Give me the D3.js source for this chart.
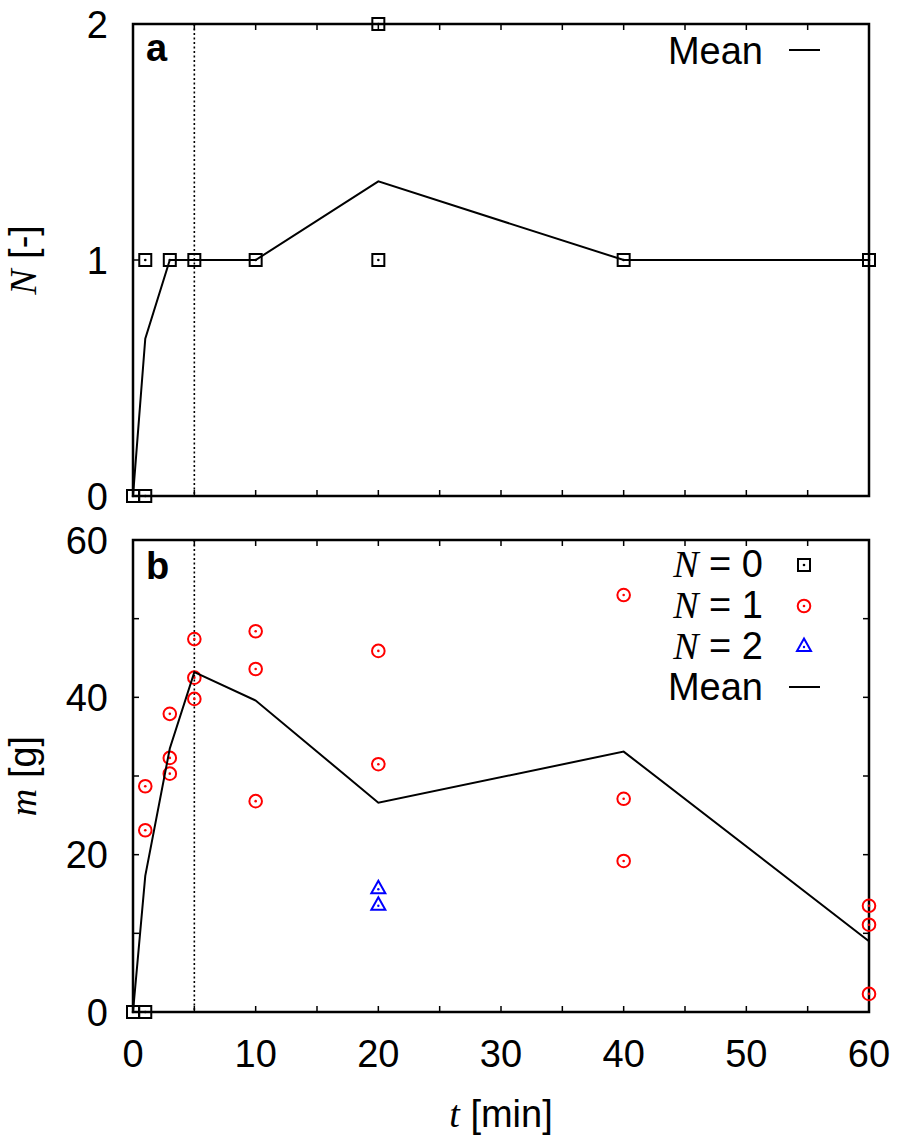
<!DOCTYPE html>
<html>
<head>
<meta charset="utf-8">
<script src="https://cdn.jsdelivr.net/npm/d3@7"></script>
<style>
  html, body { margin: 0; padding: 0; background: #fff; }
  svg { display: block; }
  text { font-family: "Liberation Sans", Arial, Helvetica, sans-serif; }
  .it { font-family: "Liberation Serif", "Times New Roman", serif; font-style: italic; }
</style>
</head>
<body>
<svg id="chart" width="898" height="1137"></svg>
<script>
// ---------- data ----------
const meanTimes = [0, 1, 3, 5, 10, 20, 40, 60];

// panel a: number N
const nTimes  = [0, 1, 1, 3, 5, 10, 20, 20, 40, 60];
const nValues = [0, 0, 1, 1, 1, 1, 2, 1, 1, 1];
const nMean   = [0, 0.667, 1, 1, 1, 1.333, 1, 1];

// panel b: mass m
const m0Times  = [0, 1];
const m0Values = [0, 0];
const m1Times  = [1, 1, 3, 3, 3, 5, 5, 5, 10, 10, 10, 20, 20, 40, 40, 40, 60, 60, 60];
const m1Values = [28.7, 23.1, 37.9, 32.3, 30.3, 47.4, 42.5, 39.8, 48.4, 43.6, 26.8, 45.9, 31.5, 53.0, 27.1, 19.2, 13.5, 11.1, 2.3];
const m2Times  = [20, 20];
const m2Values = [15.6, 13.5];
const mMean    = [0, 17.3, 33.5, 43.2, 39.6, 26.6, 33.1, 9.0];

const xTickLabels = [0, 10, 20, 30, 40, 50, 60];
const nTickLabels = [0, 1, 2];
const mTickLabels = [0, 20, 40, 60];
const markerTime = 5;

// ---------- layout ----------
const svg = d3.select("#chart");
const L = 133, R = 869;
const aTop = 24, aBot = 496, bTop = 540, bBot = 1012;
const FS = 38;

const x = d3.scaleLinear().domain([0, 60]).range([L, R]);
const yA = d3.scaleLinear().domain([0, 2]).range([aBot, aTop]);
const yB = d3.scaleLinear().domain([0, 60]).range([bBot, bTop]);

function drawFrame(y, top, bot, yMinor, yLabels, showXLabels) {
  const g = svg.append("g");
  const tl = 6;
  // x ticks every 5 on bottom and top
  d3.range(0, 61, 5).forEach(v => {
    const xx = x(v);
    g.append("line").attr("x1", xx).attr("x2", xx).attr("y1", bot).attr("y2", bot - tl)
      .attr("stroke", "#000").attr("stroke-width", 1.5);
    g.append("line").attr("x1", xx).attr("x2", xx).attr("y1", top).attr("y2", top + tl)
      .attr("stroke", "#000").attr("stroke-width", 1.5);
  });
  yMinor.forEach(v => {
    const yy = y(v);
    g.append("line").attr("x1", L).attr("x2", L + tl).attr("y1", yy).attr("y2", yy)
      .attr("stroke", "#000").attr("stroke-width", 1.5);
    g.append("line").attr("x1", R).attr("x2", R - tl).attr("y1", yy).attr("y2", yy)
      .attr("stroke", "#000").attr("stroke-width", 1.5);
  });
  yLabels.forEach(v => {
    g.append("text").attr("x", 108).attr("y", y(v)).attr("dy", "0.36em")
      .attr("text-anchor", "end").attr("font-size", FS).text(v);
  });
  if (showXLabels) {
    xTickLabels.forEach(v => {
      g.append("text").attr("x", x(v)).attr("y", 1067).attr("text-anchor", "middle")
        .attr("font-size", FS).text(v);
    });
  }
  // dotted vertical line
  g.append("line").attr("x1", x(markerTime)).attr("x2", x(markerTime))
    .attr("y1", top).attr("y2", bot)
    .attr("stroke", "#000").attr("stroke-width", 1.6).attr("stroke-dasharray", "2,2.5");
  // frame
  g.append("rect").attr("x", L).attr("y", top).attr("width", R - L).attr("height", bot - top)
    .attr("fill", "none").attr("stroke", "#000").attr("stroke-width", 2.5);
}

function squares(g, xs, ys, yScale) {
  xs.forEach((t, i) => {
    const cx = x(t), cy = yScale(ys[i]);
    g.append("rect").attr("x", cx - 6).attr("y", cy - 6).attr("width", 12).attr("height", 12)
      .attr("fill", "none").attr("stroke", "#000").attr("stroke-width", 2);
    g.append("circle").attr("cx", cx).attr("cy", cy).attr("r", 1.3).attr("fill", "#000");
  });
}
function circles(g, xs, ys, yScale) {
  xs.forEach((t, i) => {
    const cx = x(t), cy = yScale(ys[i]);
    g.append("circle").attr("cx", cx).attr("cy", cy).attr("r", 6.3)
      .attr("fill", "none").attr("stroke", "#ff0000").attr("stroke-width", 2);
    g.append("circle").attr("cx", cx).attr("cy", cy).attr("r", 1.3).attr("fill", "#ff0000");
  });
}
function triangles(g, xs, ys, yScale) {
  xs.forEach((t, i) => {
    const cx = x(t), cy = yScale(ys[i]);
    g.append("path").attr("d", `M${cx},${cy - 8.5} L${cx + 7},${cy + 4} L${cx - 7},${cy + 4} Z`)
      .attr("fill", "none").attr("stroke", "#0000ff").attr("stroke-width", 2);
    g.append("circle").attr("cx", cx).attr("cy", cy).attr("r", 1.2).attr("fill", "#0000ff");
  });
}
function meanLine(g, vals, yScale) {
  const line = d3.line().x((d, i) => x(meanTimes[i])).y(d => yScale(d));
  g.append("path").attr("d", line(vals)).attr("fill", "none")
    .attr("stroke", "#000").attr("stroke-width", 2).attr("stroke-linejoin", "miter");
}

// ---------- panel a ----------
drawFrame(yA, aTop, aBot, [0, 1, 2], nTickLabels, false);
const ga = svg.append("g");
squares(ga, nTimes, nValues, yA);
meanLine(ga, nMean, yA);
svg.append("text").attr("x", 146).attr("y", 61).attr("font-size", FS).attr("font-weight", "bold").text("a");
svg.append("text").attr("x", 763).attr("y", 64).attr("text-anchor", "end").attr("font-size", FS).text("Mean");
svg.append("line").attr("x1", 789).attr("x2", 820).attr("y1", 50).attr("y2", 50)
  .attr("stroke", "#000").attr("stroke-width", 2);

// y label a
const la = svg.append("text").attr("transform", `translate(36,${(aTop + aBot) / 2}) rotate(-90)`)
  .attr("text-anchor", "middle").attr("font-size", FS);
la.append("tspan").attr("class", "it").text("N");
la.append("tspan").text(" [-]");

// ---------- panel b ----------
drawFrame(yB, bTop, bBot, d3.range(0, 61, 10), mTickLabels, true);
const gb = svg.append("g");
squares(gb, m0Times, m0Values, yB);
circles(gb, m1Times, m1Values, yB);
triangles(gb, m2Times, m2Values, yB);
meanLine(gb, mMean, yB);
svg.append("text").attr("x", 146).attr("y", 579).attr("font-size", FS).attr("font-weight", "bold").text("b");

const lb = svg.append("text").attr("transform", `translate(36,${(bTop + bBot) / 2}) rotate(-90)`)
  .attr("text-anchor", "middle").attr("font-size", FS);
lb.append("tspan").attr("class", "it").text("m");
lb.append("tspan").text(" [g]");

// legend b
const legRows = [
  { label: "0", y: 577, kind: "sq" },
  { label: "1", y: 618, kind: "ci" },
  { label: "2", y: 659, kind: "tr" }
];
const lg = svg.append("g");
legRows.forEach(r => {
  const t = lg.append("text").attr("x", 763).attr("y", r.y).attr("text-anchor", "end").attr("font-size", FS);
  t.append("tspan").attr("class", "it").text("N");
  t.append("tspan").text(" = " + r.label);
  const cx = 804, cy = r.y - 12;
  if (r.kind === "sq") {
    lg.append("rect").attr("x", cx - 6).attr("y", cy - 6).attr("width", 12).attr("height", 12)
      .attr("fill", "none").attr("stroke", "#000").attr("stroke-width", 2);
    lg.append("circle").attr("cx", cx).attr("cy", cy).attr("r", 1.3).attr("fill", "#000");
  } else if (r.kind === "ci") {
    lg.append("circle").attr("cx", cx).attr("cy", cy).attr("r", 6.3)
      .attr("fill", "none").attr("stroke", "#ff0000").attr("stroke-width", 2);
    lg.append("circle").attr("cx", cx).attr("cy", cy).attr("r", 1.3).attr("fill", "#ff0000");
  } else {
    lg.append("path").attr("d", `M${cx},${cy - 8.5} L${cx + 7},${cy + 4} L${cx - 7},${cy + 4} Z`)
      .attr("fill", "none").attr("stroke", "#0000ff").attr("stroke-width", 2);
    lg.append("circle").attr("cx", cx).attr("cy", cy).attr("r", 1.2).attr("fill", "#0000ff");
  }
});
lg.append("text").attr("x", 763).attr("y", 700).attr("text-anchor", "end").attr("font-size", FS).text("Mean");
lg.append("line").attr("x1", 789).attr("x2", 820).attr("y1", 687).attr("y2", 687)
  .attr("stroke", "#000").attr("stroke-width", 2);

// x label
const xl = svg.append("text").attr("x", (L + R) / 2).attr("y", 1127).attr("text-anchor", "middle").attr("font-size", FS);
xl.append("tspan").attr("class", "it").text("t");
xl.append("tspan").text(" [min]");
</script>
</body>
</html>
